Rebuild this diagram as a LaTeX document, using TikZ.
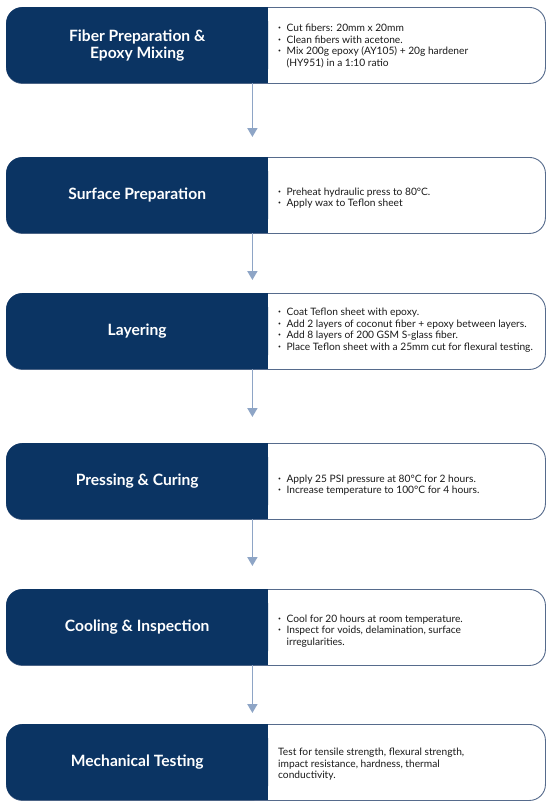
\documentclass[tikz,border=0pt]{standalone}
\usepackage{fontspec}
\setmainfont{Lato}
\usetikzlibrary{arrows.meta,positioning,calc}

\definecolor{navy}{HTML}{0B3463}
\definecolor{cardline}{HTML}{566B8C}
\definecolor{arrowblue}{HTML}{8EA5C6}
\definecolor{notetext}{HTML}{1A1A1A}

\newcommand{\bl}{\raisebox{1.8pt}{\fontsize{5}{5}\selectfont\textbullet}}

\begin{document}
\begin{tikzpicture}[
  x=1pt, y=-1pt,
  card/.style={draw=cardline, line width=0.9pt, fill=white, rounded corners=16pt, minimum width=539pt, minimum height=76pt, anchor=north west, inner sep=0pt},
  head/.style={fill=navy, rounded corners=16pt, minimum width=262pt, minimum height=76pt, anchor=north west, inner sep=0pt, text=white, font=\fontsize{15.6}{17}\selectfont\bfseries, align=center},
  notes/.style={anchor=west, inner sep=0pt, text=notetext, font=\fontsize{10.2}{11.5}\selectfont, align=left},
  flow/.style={-{Triangle[length=9pt,width=10pt]}, line width=1.8pt, draw=arrowblue}
]
\useasboundingbox (0,0) rectangle (550,804);

% cards
\node[card] (prep) at (6,7) {};
\node[card] (surface) at (6,157) {};
\node[card] (layer) at (6,293) {};
\node[card] (press) at (6,443) {};
\node[card] (cool) at (6,589) {};
\node[card] (test) at (6,724) {};

% dark title parts
\node[head] (prep-head) at (6,7) {Fiber Preparation \&\\Epoxy Mixing};
\node[head] (surface-head) at (6,157) {Surface Preparation};
\node[head] (layer-head) at (6,293) {Layering};
\node[head] (press-head) at (6,443) {Pressing \& Curing};
\node[head] (cool-head) at (6,589) {Cooling \& Inspection};
\node[head] (test-head) at (6,724) {Mechanical Testing};
\foreach \n in {prep,surface,layer,press,cool,test}
  \fill[navy] ([xshift=-17pt]\n-head.north east) rectangle (\n-head.south east);

% step notes
\node[notes] (prep-notes) at ($(prep.west)+(272pt,-1pt)$) {%
  \begin{tabular}{@{}l@{\hspace{5.5pt}}l@{}}
  \bl & Cut fibers: 20mm x 20mm\\
  \bl & Clean fibers with acetone.\\
  \bl & Mix 200g epoxy (AY105) + 20g hardener\\
      & (HY951) in a 1:10 ratio
  \end{tabular}};
\node[notes] (surface-notes) at ($(surface.west)+(272pt,-3pt)$) {%
  \begin{tabular}{@{}l@{\hspace{5.5pt}}l@{}}
  \bl & Preheat hydraulic press to 80°C.\\
  \bl & Apply wax to Teflon sheet
  \end{tabular}};
\node[notes] (layer-notes) at ($(layer.west)+(272pt,1pt)$) {%
  \begin{tabular}{@{}l@{\hspace{5.5pt}}l@{}}
  \bl & Coat Teflon sheet with epoxy.\\
  \bl & Add 2 layers of coconut fiber + epoxy between layers.\\
  \bl & Add 8 layers of 200 GSM S-glass fiber.\\
  \bl & Place Teflon sheet with a 25mm cut for flexural testing.
  \end{tabular}};
\node[notes] (press-notes) at ($(press.west)+(272pt,-4pt)$) {%
  \begin{tabular}{@{}l@{\hspace{5.5pt}}l@{}}
  \bl & Apply 25 PSI pressure at 80°C for 2 hours.\\
  \bl & Increase temperature to 100°C for 4 hours.
  \end{tabular}};
\node[notes] (cool-notes) at ($(cool.west)+(272pt,-4pt)$) {%
  \begin{tabular}{@{}l@{\hspace{5.5pt}}l@{}}
  \bl & Cool for 20 hours at room temperature.\\
  \bl & Inspect for voids, delamination, surface\\
      & irregularities.
  \end{tabular}};
\node[notes] (test-notes) at ($(test.west)+(272pt,-2pt)$) {%
  Test for tensile strength, flexural strength,\\
  impact resistance, hardness, thermal\\
  conductivity.};

% arrows between steps
\draw[flow, shorten >=20pt] ([xshift=-16pt]prep-head.south east) -- ([xshift=-16pt]surface-head.north east);
\draw[flow, shorten >=13pt] ([xshift=-16pt]surface-head.south east) -- ([xshift=-16pt]layer-head.north east);
\draw[flow, shorten >=26pt] ([xshift=-16pt]layer-head.south east) -- ([xshift=-16pt]press-head.north east);
\draw[flow, shorten >=23pt] ([xshift=-16pt]press-head.south east) -- ([xshift=-16pt]cool-head.north east);
\draw[flow, shorten >=11pt] ([xshift=-16pt]cool-head.south east) -- ([xshift=-16pt]test-head.north east);
\end{tikzpicture}
\end{document}
